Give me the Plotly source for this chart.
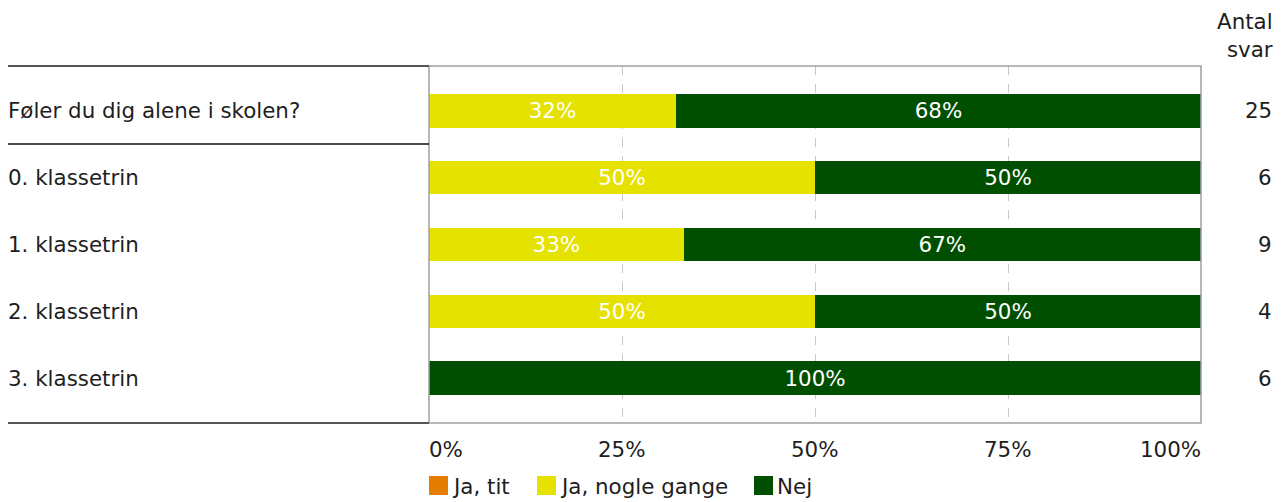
import plotly.graph_objects as go

categories = ["Føler du dig alene i skolen?", "0. klassetrin", "1. klassetrin", "2. klassetrin", "3. klassetrin"]
ja_tit = [0, 0, 0, 0, 0]
ja_nogle = [32, 50, 33, 50, 0]
nej = [68, 50, 67, 50, 100]
antal = [25, 6, 9, 4, 6]
tick_vals = [0, 25, 50, 75, 100]
tick_text = ["0%", "25%", "50%", "75%", "100%"]
legend_names = ["Ja, tit", "Ja, nogle gange", "Nej"]

FONT = "DejaVu Sans, Verdana, sans-serif"
FS = 21.4
TXT = "#1e1e1e"
OFF = 8  # page body margin
W, H = 1287 - OFF, 502 - OFF
L = 429 - OFF
T = 66 - OFF
R = W - (1201 - OFF)
B = H - (423 - OFF)
PW = W - L - R
PH = H - T - B

colors = ["#E47C00", "#E6E200", "#004F00"]
series = [ja_tit, ja_nogle, nej]

fig = go.Figure()
yidx = list(range(len(categories)))
for name, vals, col in zip(legend_names, series, colors):
    fig.add_trace(go.Bar(
        y=yidx, x=vals, orientation="h", name=name,
        marker=dict(color=col, line=dict(width=0)),
        text=[f"{v}%" if v > 0 else "" for v in vals],
        textposition="inside", insidetextanchor="middle",
        textfont=dict(color="white", size=FS, family=FONT),
        width=0.5, hoverinfo="skip", showlegend=False))

def px2x(px):
    return (px - OFF - L) / PW

def px2y(py):
    return 1 - (py - OFF - T) / PH

shapes = []
shapes.append(dict(type="rect", xref="paper", yref="paper", x0=0, x1=1, y0=0, y1=1,
                   line=dict(color="#a0a0a0", width=1.5), layer="above"))
for py, col, w in [(66, "#555555", 2), (423, "#555555", 2), (144, "#111111", 1.3)]:
    shapes.append(dict(type="line", xref="paper", yref="paper", x0=px2x(8), x1=0,
                       y0=px2y(py), y1=px2y(py), line=dict(color=col, width=w)))

annotations = []
for i, c in enumerate(categories):
    annotations.append(dict(xref="paper", yref="y", x=px2x(8), y=i, text=c, showarrow=False,
                            xanchor="left", yanchor="middle", xshift=-2,
                            font=dict(size=FS, family=FONT, color=TXT)))
    annotations.append(dict(xref="paper", yref="y", x=px2x(1272), y=i, text=str(antal[i]), showarrow=False,
                            xanchor="right", yanchor="middle", xshift=2,
                            font=dict(size=FS, family=FONT, color=TXT)))
annotations.append(dict(xref="paper", yref="paper", x=px2x(1273), y=px2y(35), text="Antal<br>svar",
                        showarrow=False, xanchor="right", yanchor="middle", align="right", xshift=2,
                        font=dict(size=FS, family=FONT, color=TXT)))

# x tick labels: first left-aligned, last right-aligned, others centred
for k, (tv, tt) in enumerate(zip(tick_vals, tick_text)):
    anchor = "left" if k == 0 else ("right" if k == len(tick_vals) - 1 else "center")
    shift = -2 if k == 0 else (2 if k == len(tick_vals) - 1 else 0)
    annotations.append(dict(xref="x", yref="paper", x=tv, y=px2y(449), text=tt, showarrow=False,
                            xanchor=anchor, yanchor="middle", xshift=shift,
                            font=dict(size=FS, family=FONT, color=TXT)))

# manual legend
sq_x = [429, 537, 754]
for name, col, x0 in zip(legend_names, colors, sq_x):
    shapes.append(dict(type="rect", xref="paper", yref="paper", x0=px2x(x0), x1=px2x(x0 + 19),
                       y0=px2y(476), y1=px2y(495), fillcolor=col, line=dict(width=0)))
    annotations.append(dict(xref="paper", yref="paper", x=px2x(x0 + 23), y=px2y(486), text=name,
                            showarrow=False, xanchor="left", yanchor="middle", xshift=-2,
                            font=dict(size=FS, family=FONT, color=TXT)))

fig.update_layout(shapes=shapes, annotations=annotations)

fig.update_layout(
    width=W, height=H, barmode="stack",
    margin=dict(l=L, r=R, t=T, b=B, pad=0, autoexpand=False),
    paper_bgcolor="white", plot_bgcolor="white",
    font=dict(family=FONT, size=FS, color=TXT),
    xaxis=dict(range=[0, 100], tickvals=tick_vals, showticklabels=False, showgrid=True,
               gridcolor="#c8c8c8", griddash="dash", gridwidth=1, zeroline=False,
               showline=False, ticks="", fixedrange=True),
    yaxis=dict(range=[4.674, -0.674], showticklabels=False, showgrid=False, zeroline=False,
               showline=False, fixedrange=True),
    showlegend=False,
)

fig.write_html("out.html")
